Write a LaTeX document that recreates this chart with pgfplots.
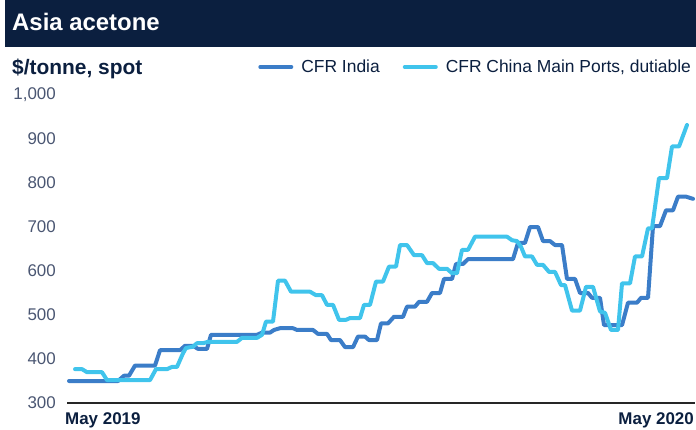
\documentclass[border=0pt]{standalone}
\usepackage{pgfplots}
\pgfplotsset{compat=1.18}
\usepackage{fontspec}
\setmainfont{Liberation Sans}
\definecolor{navy}{HTML}{0B1F3F}
\definecolor{india}{HTML}{3B7DC8}
\definecolor{china}{HTML}{40C4EC}
\definecolor{tickc}{HTML}{4A5672}
\begin{document}
\begin{tikzpicture}[x=1bp,y=1bp]
\useasboundingbox (0,0) rectangle (696,429);
\fill[navy] (5,382) rectangle (696,429);
\node[anchor=base west,text=white,font=\fontsize{24}{24}\selectfont\bfseries,inner sep=0] at (12,398) {Asia acetone};
\node[anchor=base west,text=navy,font=\fontsize{21}{21}\selectfont\bfseries,inner sep=0] at (12,355) {\$/tonne, spot};
\begin{axis}[at={(67bp,26bp)}, anchor=south west, scale only axis,
  width=628bp, height=308bp, xmin=67, xmax=695, ymin=300, ymax=1000,
  axis lines*=left, y axis line style={draw=none},
  x axis line style={line width=1.3bp, color=black!85},
  xtick=\empty, ytick={300,400,...,1000}, major tick length=0pt,
  yticklabel style={font=\fontsize{17}{17}\selectfont, text=tickc, inner sep=0pt, xshift=-11bp},
  /pgf/number format/1000 sep={,}, /pgf/number format/assume math mode=true,
  clip=false,
  legend columns=2,
  legend style={at={(0.997,1.091)}, anchor=east, draw=none, fill=none, inner sep=0pt,
    font=\fontsize{17.5}{17.5}\selectfont, text=navy,
    /tikz/every even column/.append style={column sep=21bp}},
  legend image code/.code={\draw[#1, line width=4bp, line cap=round] (0bp,0bp) -- (31bp,0bp); \path (37bp,0bp);},
  every axis plot/.append style={line width=4bp, line join=round, line cap=round},
]
\addplot[india] coordinates {
(69,350) (118,350) (124,362) (129,362) (135,385) (155,385) (160,420) (180,420)
(185,430) (193,430) (198,423) (207,423) (211,455) (257,455) (262,460) (270,460)
(274,466) (280,470) (293,470) (297,466) (313,466) (318,457) (327,457) (331,443)
(340,443) (345,427) (353,427) (358,451) (365,451) (369,443) (377,443) (381,481)
(388,481) (394,496) (403,496) (407,519) (415,519) (419,530) (427,530) (432,550)
(440,550) (444,582) (452,582) (456,616) (463,616) (468,627) (513,627) (518,664)
(525,664) (530,700) (538,700) (543,668) (550,668) (555,659) (562,659) (567,582)
(575,582) (580,550) (588,550) (592,539) (600,539) (604,477) (622,477) (628,528)
(637,528) (641,539) (648,539) (653,702) (660,702) (666,738) (673,738) (678,769)
(686,769) (693,764)
};
\addlegendentry{CFR India}
\addplot[china] coordinates {
(75,377) (82,377) (87,370) (102,370) (107,352) (150,352) (156,377) (167,377)
(172,382) (177,382) (183,413) (186,425) (193,428) (197,436) (203,436) (208,439)
(237,439) (242,448) (257,448) (262,455) (266,485) (273,485) (278,578) (285,578)
(291,553) (310,553) (316,545) (322,545) (327,523) (333,523) (339,489) (346,489)
(350,493) (360,493) (364,523) (370,523) (376,576) (383,576) (389,610) (396,610)
(400,659) (407,659) (414,636) (422,636) (427,618) (433,618) (439,605) (447,605)
(452,595) (457,595) (462,648) (468,648) (475,678) (507,678) (512,670) (517,668)
(521,655) (525,633) (532,633) (537,614) (543,614) (549,598) (555,598) (561,568)
(565,568) (572,510) (580,510) (586,564) (593,564) (600,508) (605,505) (611,466)
(618,466) (622,572) (630,572) (635,633) (642,633) (648,697) (652,697) (659,811)
(667,811) (672,883) (679,883) (687,932)
};
\addlegendentry{CFR China Main Ports, dutiable}
\end{axis}
\node[anchor=base west,text=navy,font=\fontsize{17}{17}\selectfont\bfseries,inner sep=0] at (65,5) {May 2019};
\node[anchor=base east,text=navy,font=\fontsize{17}{17}\selectfont\bfseries,inner sep=0] at (694,5) {May 2020};
\end{tikzpicture}
\end{document}
